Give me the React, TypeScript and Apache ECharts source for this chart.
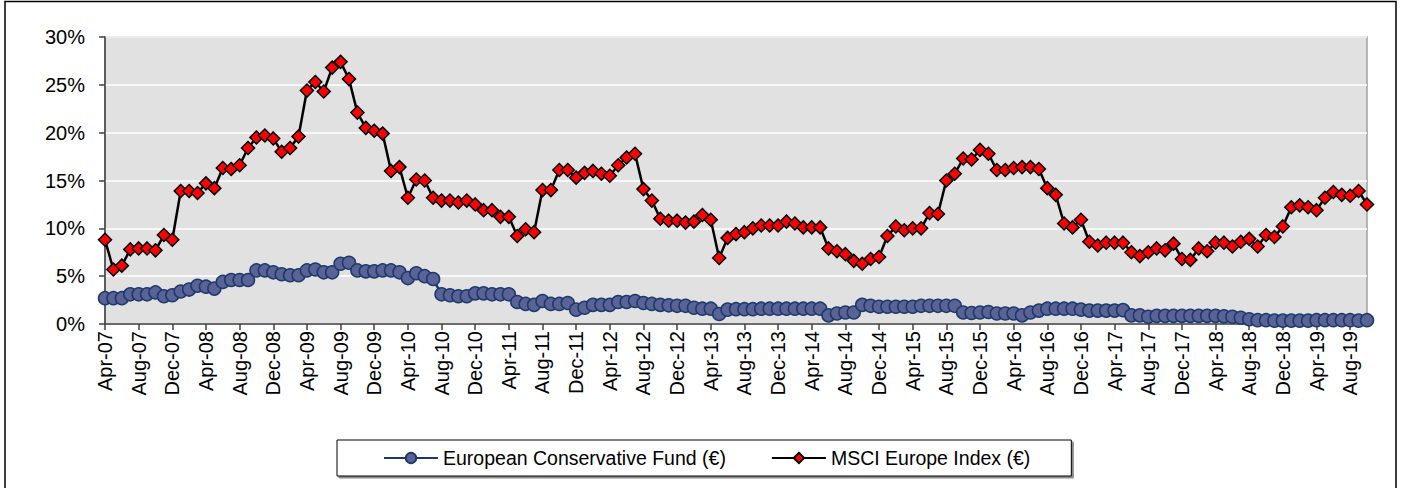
import React, { useEffect, useRef } from "react";
import * as echarts from "echarts";

const categories: string[] = [
  "Apr-07", "May-07", "Jun-07", "Jul-07", "Aug-07", "Sep-07", "Oct-07", "Nov-07", "Dec-07",
  "Jan-08", "Feb-08", "Mar-08", "Apr-08", "May-08", "Jun-08", "Jul-08", "Aug-08", "Sep-08", "Oct-08", "Nov-08", "Dec-08",
  "Jan-09", "Feb-09", "Mar-09", "Apr-09", "May-09", "Jun-09", "Jul-09", "Aug-09", "Sep-09", "Oct-09", "Nov-09", "Dec-09",
  "Jan-10", "Feb-10", "Mar-10", "Apr-10", "May-10", "Jun-10", "Jul-10", "Aug-10", "Sep-10", "Oct-10", "Nov-10", "Dec-10",
  "Jan-11", "Feb-11", "Mar-11", "Apr-11", "May-11", "Jun-11", "Jul-11", "Aug-11", "Sep-11", "Oct-11", "Nov-11", "Dec-11",
  "Jan-12", "Feb-12", "Mar-12", "Apr-12", "May-12", "Jun-12", "Jul-12", "Aug-12", "Sep-12", "Oct-12", "Nov-12", "Dec-12",
  "Jan-13", "Feb-13", "Mar-13", "Apr-13", "May-13", "Jun-13", "Jul-13", "Aug-13", "Sep-13", "Oct-13", "Nov-13", "Dec-13",
  "Jan-14", "Feb-14", "Mar-14", "Apr-14", "May-14", "Jun-14", "Jul-14", "Aug-14", "Sep-14", "Oct-14", "Nov-14", "Dec-14",
  "Jan-15", "Feb-15", "Mar-15", "Apr-15", "May-15", "Jun-15", "Jul-15", "Aug-15", "Sep-15", "Oct-15", "Nov-15", "Dec-15",
  "Jan-16", "Feb-16", "Mar-16", "Apr-16", "May-16", "Jun-16", "Jul-16", "Aug-16", "Sep-16", "Oct-16", "Nov-16", "Dec-16",
  "Jan-17", "Feb-17", "Mar-17", "Apr-17", "May-17", "Jun-17", "Jul-17", "Aug-17", "Sep-17", "Oct-17", "Nov-17", "Dec-17",
  "Jan-18", "Feb-18", "Mar-18", "Apr-18", "May-18", "Jun-18", "Jul-18", "Aug-18", "Sep-18", "Oct-18", "Nov-18", "Dec-18",
  "Jan-19", "Feb-19", "Mar-19", "Apr-19", "May-19", "Jun-19", "Jul-19", "Aug-19", "Sep-19", "Oct-19",
];

// European Conservative Fund (€), in %
const fundValues: number[] = [
  2.7, 2.7, 2.7, 3.1, 3.1, 3.1, 3.3, 2.9, 3.0,
  3.4, 3.6, 4.0, 3.9, 3.7, 4.4, 4.6, 4.6, 4.6, 5.6, 5.6, 5.4,
  5.2, 5.1, 5.1, 5.6, 5.7, 5.4, 5.4, 6.3, 6.4, 5.6, 5.5, 5.5,
  5.6, 5.6, 5.4, 4.8, 5.3, 5.0, 4.7, 3.1, 3.0, 2.9, 2.9, 3.2,
  3.2, 3.1, 3.1, 3.1, 2.3, 2.1, 2.0, 2.4, 2.1, 2.1, 2.2, 1.5,
  1.7, 2.0, 2.0, 2.0, 2.3, 2.3, 2.4, 2.2, 2.1, 2.0, 1.95, 1.9,
  1.9, 1.7, 1.6, 1.6, 1.05, 1.5, 1.55, 1.55, 1.55, 1.6, 1.6, 1.6,
  1.6, 1.6, 1.6, 1.6, 1.6, 0.9, 1.1, 1.2, 1.2, 2.0, 1.9, 1.8,
  1.8, 1.8, 1.8, 1.8, 1.9, 1.9, 1.9, 1.9, 1.9, 1.2, 1.15, 1.2,
  1.25, 1.1, 1.1, 1.1, 0.9, 1.2, 1.4, 1.6, 1.6, 1.6, 1.6, 1.5,
  1.4, 1.4, 1.4, 1.4, 1.45, 0.9, 0.9, 0.75, 0.85, 0.85, 0.85, 0.85,
  0.85, 0.85, 0.85, 0.85, 0.8, 0.75, 0.65, 0.5, 0.4, 0.4, 0.35, 0.35,
  0.35, 0.35, 0.35, 0.4, 0.4, 0.4, 0.4, 0.4, 0.35, 0.4,
];

// MSCI Europe Index (€), in %
const indexValues: number[] = [
  8.8, 5.7, 6.1, 7.8, 7.9, 7.9, 7.7, 9.3, 8.8,
  13.9, 13.9, 13.7, 14.7, 14.2, 16.3, 16.2, 16.6, 18.4, 19.5, 19.7, 19.4,
  18.0, 18.4, 19.6, 24.4, 25.3, 24.3, 26.8, 27.4, 25.6, 22.1, 20.5, 20.2,
  19.9, 16.0, 16.4, 13.2, 15.1, 15.0, 13.2, 12.9, 12.9, 12.7, 12.9, 12.5,
  11.9, 11.9, 11.2, 11.2, 9.2, 9.9, 9.6, 14.0, 14.0, 16.1, 16.1, 15.3,
  15.8, 16.0, 15.7, 15.5, 16.6, 17.4, 17.8, 14.1, 12.9, 11.0, 10.8, 10.8,
  10.6, 10.7, 11.4, 10.9, 6.9, 9.0, 9.4, 9.6, 10.0, 10.3, 10.3, 10.3,
  10.7, 10.5, 10.1, 10.1, 10.1, 7.9, 7.6, 7.3, 6.6, 6.3, 6.8, 7.0,
  9.2, 10.2, 9.8, 10.0, 10.0, 11.6, 11.5, 15.0, 15.7, 17.3, 17.2, 18.2,
  17.8, 16.1, 16.1, 16.3, 16.4, 16.4, 16.2, 14.2, 13.5, 10.5, 10.1, 10.9,
  8.6, 8.2, 8.5, 8.5, 8.5, 7.5, 7.1, 7.5, 7.9, 7.7, 8.4, 6.8,
  6.7, 7.9, 7.6, 8.5, 8.5, 8.1, 8.6, 8.9, 8.1, 9.3, 9.1, 10.2,
  12.2, 12.4, 12.2, 11.9, 13.2, 13.8, 13.5, 13.4, 13.9, 12.5,
];

const seriesNames = ["European Conservative Fund (€)", "MSCI Europe Index (€)"];
const yMin = 0;
const yMax = 30;
const yStep = 5;

const FONT = "'Liberation Sans', Arial, Helvetica, sans-serif";

export default function App() {
  const ref = useRef<HTMLDivElement>(null);

  useEffect(() => {
    document.body.style.margin = "0";
    const chart = echarts.init(ref.current!, null, { renderer: "svg" });
    chart.setOption({
      animation: false,
      backgroundColor: "#ffffff",
      textStyle: { fontFamily: FONT },
      graphic: [
        {
          type: "rect",
          shape: { x: 5, y: 1.5, width: 1391, height: 520 },
          style: { fill: "none", stroke: "#000000", lineWidth: 1.5 },
          silent: true,
          z: 100,
        },
      ],
      grid: {
        left: 105,
        top: 37,
        width: 1262,
        height: 287,
        show: true,
        backgroundColor: "#e1e1e1",
        borderColor: "#a0a0a0",
        borderWidth: 1.5,
      },
      legend: {
        data: seriesNames,
        left: 337,
        top: 440,
        orient: "horizontal",
        padding: [8, 41, 8, 46],
        itemGap: 45,
        itemWidth: 54,
        itemHeight: 13,
        borderColor: "#000000",
        borderWidth: 1,
        backgroundColor: "#ffffff",
        shadowColor: "rgba(0,0,0,0.45)",
        shadowOffsetX: 2,
        shadowOffsetY: 2,
        shadowBlur: 0,
        textStyle: { fontSize: 19.5, color: "#000000", fontFamily: FONT },
      },
      xAxis: {
        type: "category",
        data: categories,
        boundaryGap: false,
        axisLine: { lineStyle: { color: "#404040", width: 1.5 } },
        axisTick: { interval: 3, length: 6, lineStyle: { color: "#404040", width: 1.5 } },
        axisLabel: {
          interval: 3,
          rotate: 90,
          margin: 7,
          fontSize: 20,
          color: "#000000",
          fontFamily: FONT,
        },
        splitLine: { show: false },
      },
      yAxis: {
        type: "value",
        min: yMin,
        max: yMax,
        interval: yStep,
        axisLine: { show: true, lineStyle: { color: "#404040", width: 1.5 } },
        axisTick: { show: true, length: 6, lineStyle: { color: "#404040", width: 1.5 } },
        axisLabel: {
          formatter: "{value}%",
          margin: 20,
          fontSize: 20,
          color: "#000000",
          fontFamily: FONT,
        },
        splitLine: { show: true, lineStyle: { color: "#ffffff", width: 1.5 } },
      },
      series: [
        {
          name: seriesNames[0],
          type: "line",
          data: fundValues,
          showAllSymbol: true,
          symbol: "circle",
          symbolSize: 13,
          lineStyle: { color: "#1f3864", width: 2.5 },
          itemStyle: { color: "#5b6296", borderColor: "#1c3a6b", borderWidth: 1.5 },
          z: 2,
        },
        {
          name: seriesNames[1],
          type: "line",
          data: indexValues,
          showAllSymbol: true,
          symbol: "diamond",
          symbolSize: 13,
          lineStyle: { color: "#000000", width: 2.5 },
          itemStyle: { color: "#ff0000", borderColor: "#000000", borderWidth: 1.5 },
          z: 3,
        },
      ],
    });
    return () => chart.dispose();
  }, []);

  return <div ref={ref} style={{ width: 1404, height: 488 }} />;
}
